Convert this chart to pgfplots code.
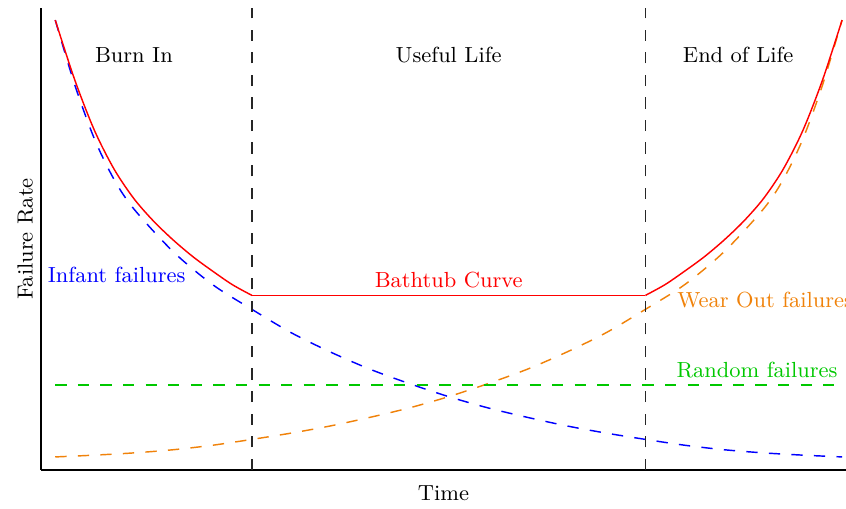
\documentclass[border=0pt]{standalone}
\usepackage{pgfplots}
\pgfplotsset{compat=1.18}

\definecolor{infant}{RGB}{0,0,255}
\definecolor{wear}{RGB}{240,130,10}
\definecolor{rand}{RGB}{0,200,0}
\definecolor{tub}{RGB}{255,0,0}

\begin{document}
\fontsize{9.1}{11}\selectfont
\begin{tikzpicture}
\begin{axis}[
    width=335pt, height=192.3pt,
    scale only axis,
    axis x line=bottom,
    axis y line=left,
    axis line style={-, line width=0.6pt},
    xtick=\empty, ytick=\empty,
    xmin=-0.18, xmax=10.05,
    ymin=0, ymax=10.27,
    xlabel={Time},
    ylabel={Failure Rate},
    xlabel style={yshift=-1pt},
    ylabel style={yshift=-2pt},
    clip=false,
    every axis plot/.append style={line width=0.6pt},
    dashpat/.style={dash pattern=on 4.7pt off 4.7pt},
]

% infant failures
\addplot[infant, dashpat, smooth] coordinates {
    (0,10.0) (0.25,8.55) (0.5,7.35) (0.75,6.45) (1.0,5.80) (1.5,4.85)
    (2.0,4.12) (2.5,3.57) (3.0,3.05) (3.5,2.62) (4.0,2.24) (4.5,1.92)
    (5.0,1.63) (5.5,1.38) (6.0,1.17) (6.5,0.98) (7.0,0.82) (7.5,0.68)
    (8.0,0.55) (8.5,0.45) (9.0,0.38) (9.5,0.33) (10,0.29)
};

% wear out failures
\addplot[wear, dashpat, smooth] coordinates {
    (0,0.29) (0.5,0.33) (1.0,0.38) (1.5,0.45) (2.0,0.55) (2.5,0.68)
    (3.0,0.82) (3.5,0.98) (4.0,1.17) (4.5,1.38) (5.0,1.63) (5.5,1.92)
    (6.0,2.24) (6.5,2.62) (7.0,3.05) (7.5,3.57) (8.0,4.12) (8.5,4.85)
    (9.0,5.80) (9.25,6.45) (9.5,7.35) (9.75,8.55) (10,10.0)
};

% random failures
\addplot[rand, dashpat] coordinates {(0,1.89) (10,1.89)};

% bathtub curve
\addplot[tub, smooth] coordinates {
    (0,10.0) (0.25,8.66) (0.5,7.54) (0.75,6.68) (1.0,6.03) (1.25,5.53)
    (1.5,5.11) (1.75,4.74) (2.0,4.42) (2.25,4.12) (2.5,3.88)
};
\addplot[tub] coordinates {(2.5,3.88) (7.5,3.88)};
\addplot[tub, smooth] coordinates {
    (7.5,3.88) (7.75,4.12) (8.0,4.42) (8.25,4.74) (8.5,5.11) (8.75,5.53)
    (9.0,6.03) (9.25,6.68) (9.5,7.54) (9.75,8.66) (10,10.0)
};

% phase boundaries
\addplot[black!85, dashpat] coordinates {(2.5,0) (2.5,10.27)};
\addplot[black!85, dashpat] coordinates {(7.5,0) (7.5,10.27)};

\node at (axis cs:1.0,9.22) {Burn In};
\node at (axis cs:5.0,9.22) {Useful Life};
\node at (axis cs:8.68,9.22) {End of Life};
\node[text=infant] at (axis cs:0.78,4.33) {Infant failures};
\node[text=tub] at (axis cs:5.0,4.22) {Bathtub Curve};
\node[text=wear, anchor=west, inner sep=0pt] at (axis cs:7.90,3.78) {Wear Out failures};
\node[text=rand] at (axis cs:8.92,2.22) {Random failures};
\end{axis}
\pgfresetboundingbox
\path[use as bounding box] (current axis.south west) ++(-17.1pt,-16.2pt)
    rectangle ([yshift=3.3pt]current axis.north east);
\end{tikzpicture}
\end{document}
